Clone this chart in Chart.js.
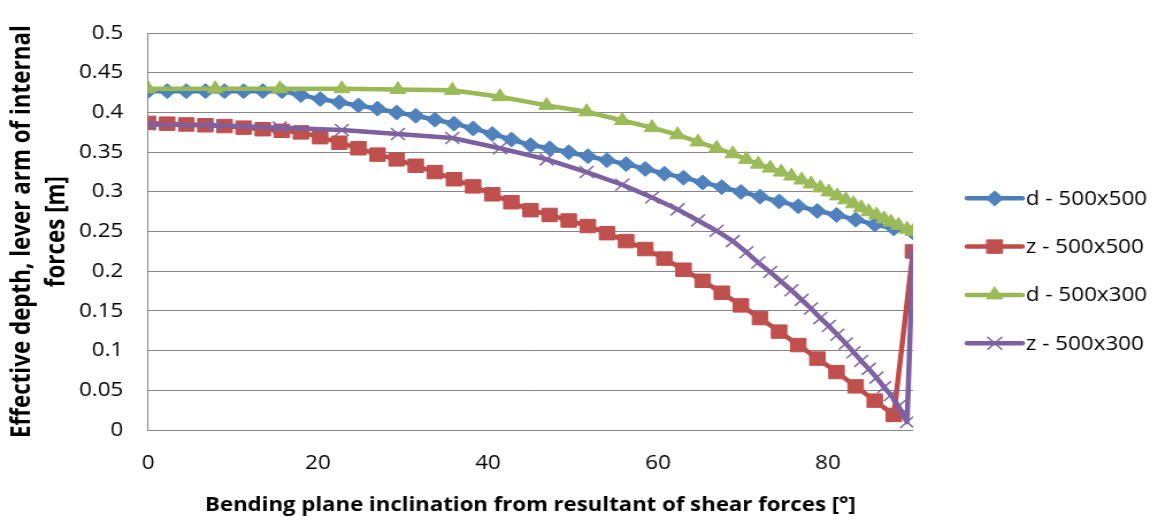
<!DOCTYPE html>
<html>
<head>
<meta charset="utf-8">
<script src="https://cdn.jsdelivr.net/npm/chart.js@4"></script>
<style>
  html, body { margin: 0; padding: 0; background: #fff; overflow: hidden; }
  /* the reference picture is a bit stretched sideways, so the chart is too */
  #wrap { width: 1006px; height: 520px; transform: scaleX(1.15); transform-origin: 0 0; }
</style>
</head>
<body>
<div id="wrap"><canvas id="chart" width="1006" height="520"></canvas></div>
<script>
// angles for the 500x500 section [deg]
const angles500x500 = [0, 2.25, 4.5, 6.75, 9, 11.25, 13.5, 15.75, 18, 20.25, 22.5, 24.75, 27, 29.25, 31.5,
  33.75, 36, 38.25, 40.5, 42.75, 45, 47.25, 49.5, 51.75, 54, 56.25, 58.5, 60.75, 63, 65.25, 67.5,
  69.75, 72, 74.25, 76.5, 78.75, 81, 83.25, 85.5, 87.75, 90];
const d500x500 = [0.427, 0.427, 0.427, 0.427, 0.427, 0.427, 0.427, 0.427, 0.422, 0.417, 0.413, 0.409,
  0.405, 0.400, 0.396, 0.391, 0.386, 0.380, 0.373, 0.366, 0.359, 0.355, 0.350, 0.345, 0.340, 0.335,
  0.329, 0.323, 0.318, 0.312, 0.306, 0.300, 0.294, 0.288, 0.282, 0.276, 0.271, 0.265, 0.259, 0.254, 0.249];
const z500x500 = [0.387, 0.386, 0.385, 0.384, 0.383, 0.381, 0.379, 0.377, 0.375, 0.369, 0.362, 0.355,
  0.347, 0.341, 0.333, 0.325, 0.316, 0.307, 0.297, 0.287, 0.277, 0.271, 0.264, 0.257, 0.248, 0.238,
  0.228, 0.216, 0.202, 0.188, 0.173, 0.157, 0.141, 0.124, 0.107, 0.090, 0.073, 0.055, 0.037, 0.019, 0.225];

// angles for the 500x300 section [deg]
const angles500x300 = [0, 7.9, 15.5, 22.8, 29.4, 35.8, 41.4, 46.9, 51.6, 55.8, 59.3, 62.3, 64.7, 66.9,
  68.8, 70.4, 71.8, 73.2, 74.5, 75.7, 76.9, 78.0, 79.1, 80.1, 81.1, 82.1, 83.0, 83.9, 84.8, 85.7,
  86.6, 87.4, 88.3, 89.3, 90];
const d500x300 = [0.430, 0.430, 0.430, 0.430, 0.429, 0.428, 0.420, 0.409, 0.401, 0.390, 0.381, 0.372,
  0.363, 0.355, 0.348, 0.341, 0.335, 0.330, 0.325, 0.320, 0.315, 0.310, 0.305, 0.300, 0.295, 0.290,
  0.285, 0.280, 0.275, 0.271, 0.266, 0.262, 0.258, 0.253, 0.250];
const z500x300 = [0.385, 0.384, 0.381, 0.378, 0.373, 0.368, 0.355, 0.341, 0.325, 0.309, 0.293, 0.278,
  0.264, 0.251, 0.238, 0.224, 0.211, 0.199, 0.187, 0.176, 0.164, 0.153, 0.141, 0.131, 0.120, 0.109,
  0.098, 0.087, 0.077, 0.066, 0.054, 0.044, 0.030, 0.010, 0.225];

const seriesNames = ['d - 500x500', 'z - 500x500', 'd - 500x300', 'z - 500x300'];
const xTicks = [0, 20, 40, 60, 80];

function toPoints(xs, ys) {
    return xs.map((x, i) => ({ x: x, y: ys[i] }));
}

const FONT = '"Open Sans"';

// legend at the right, drawn with each dataset's own style
const sideLegend = {
    id: 'sideLegend',
    afterDraw(chart) {
        const ctx = chart.ctx;
        const x0 = 841, x1 = 889, top = 198.3, gap = 48.3;
        chart.data.datasets.forEach((ds, i) => {
            const y = top + i * gap;
            ctx.save();
            ctx.strokeStyle = ds.borderColor;
            ctx.lineWidth = ds.borderWidth;
            ctx.lineCap = 'round';
            ctx.beginPath();
            ctx.moveTo(x0, y);
            ctx.lineTo(x1, y);
            ctx.stroke();
            ctx.fillStyle = ds.pointBackgroundColor;
            ctx.strokeStyle = ds.pointBorderColor;
            ctx.lineWidth = ds.pointBorderWidth;
            Chart.helpers.drawPoint(ctx, {
                pointStyle: ds.pointStyle,
                radius: ds.pointRadius,
                rotation: 0,
                borderWidth: ds.pointBorderWidth
            }, (x0 + x1) / 2, y);
            ctx.fillStyle = '#000';
            ctx.font = '19.5px ' + FONT;
            ctx.textBaseline = 'middle';
            ctx.textAlign = 'left';
            ctx.fillText(ds.label, x1 + 3, y + 1);
            ctx.restore();
        });
    }
};

const ctx = document.getElementById('chart').getContext('2d');
new Chart(ctx, {
    type: 'scatter',
    data: {
        datasets: [{
            label: seriesNames[0],
            data: toPoints(angles500x500, d500x500),
            borderColor: '#4A7EBB',
            pointBackgroundColor: '#4F81BD',
            pointBorderColor: '#4F81BD',
            pointStyle: 'rectRot',
            pointRadius: 7.5,
            pointBorderWidth: 1,
            order: 3
        }, {
            label: seriesNames[1],
            data: toPoints(angles500x500, z500x500),
            borderColor: '#BE4B48',
            pointBackgroundColor: '#C0504D',
            pointBorderColor: '#C0504D',
            pointStyle: 'rect',
            pointRadius: 9.5,
            pointBorderWidth: 1,
            order: 2
        }, {
            label: seriesNames[2],
            data: toPoints(angles500x300, d500x300),
            borderColor: '#98B954',
            pointBackgroundColor: '#9BBB59',
            pointBorderColor: '#9BBB59',
            pointStyle: 'triangle',
            pointRadius: 8,
            pointBorderWidth: 1,
            order: 1
        }, {
            label: seriesNames[3],
            data: toPoints(angles500x300, z500x300),
            borderColor: '#7D60A0',
            pointBackgroundColor: '#8064A2',
            pointBorderColor: '#8064A2',
            pointStyle: 'crossRot',
            pointRadius: 8.5,
            pointBorderWidth: 1.5,
            order: 0
        }].map(ds => Object.assign({
            showLine: true,
            borderWidth: 4.5,
            tension: 0,
            borderJoinStyle: 'round',
            borderCapStyle: 'round',
            fill: false
        }, ds))
    },
    options: {
        responsive: false,
        animation: false,
        events: [],
        layout: { padding: { top: 17, right: 212.1, bottom: 0, left: 0 } },
        plugins: {
            legend: { display: false },
            tooltip: { enabled: false }
        },
        scales: {
            x: {
                type: 'linear',
                min: 0,
                max: 90,
                afterBuildTicks: scale => {
                    scale.ticks = xTicks.map(v => ({ value: v }));
                },
                afterFit: scale => { scale.height = 90; },
                grid: { display: false, drawTicks: false },
                border: { display: true, color: '#868686', width: 1 },
                ticks: {
                    color: '#000',
                    font: { family: FONT, size: 19.5 },
                    padding: 22,
                    maxRotation: 0
                },
                title: {
                    display: true,
                    text: 'Bending plane inclination from resultant of shear forces [°]',
                    color: '#000',
                    font: { family: FONT, size: 19.3, weight: 'bold', lineHeight: 1.2 },
                    padding: { top: 0, bottom: 3 }
                }
            },
            y: {
                min: 0,
                max: 0.5,
                afterFit: scale => { scale.width = 128.7; },
                ticks: {
                    stepSize: 0.05,
                    color: '#000',
                    font: { family: FONT, size: 19.5 },
                    padding: 21.5,
                    callback: v => String(Number(v.toFixed(2)))
                },
                grid: { color: '#868686', lineWidth: 1, drawTicks: false },
                border: { display: true, color: '#868686', width: 1 },
                title: {
                    display: true,
                    text: ['Effective depth, lever arm of internal', 'forces [m]'],
                    color: '#000',
                    font: { family: FONT, size: 22.4, weight: 'bold', lineHeight: 1.32 },
                    padding: { top: 5.2, bottom: 0 }
                }
            }
        }
    },
    plugins: [sideLegend]
});
</script>
</body>
</html>
